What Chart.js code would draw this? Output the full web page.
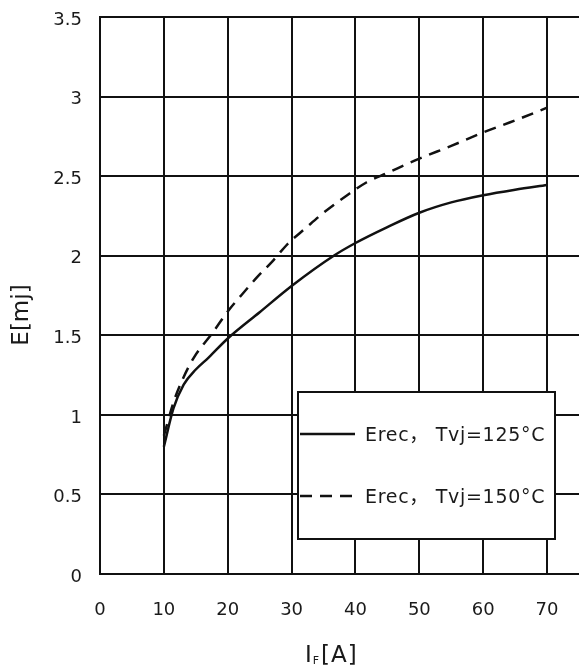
<!DOCTYPE html>
<html>
<head>
    <meta charset="utf-8">
    <script src="https://cdn.jsdelivr.net/npm/chart.js@4.4.1/dist/chart.umd.min.js"></script>
    <style>
        body { margin: 0; background: #fff; }
    </style>
</head>

<body>
    <canvas id="myChart" width="579" height="666"></canvas>

    <script>
        // I_F [A] vs E [mJ]
        const current125 = [10, 11.5, 13.1, 15, 17, 20, 25, 30, 36.6, 40, 45, 50, 55, 60, 65, 70];
        const erec125 = [0.80, 1.04, 1.19, 1.285, 1.36, 1.48, 1.645, 1.81, 2.00, 2.08, 2.18, 2.27, 2.335, 2.38, 2.415, 2.445];

        const current150 = [10, 11.6, 12.9, 14.7, 17.7, 20, 22.2, 24.6, 27, 29.4, 32.1, 35, 38.7, 41.7, 45, 50, 55, 60, 65, 70];
        const erec150 = [0.87, 1.09, 1.22, 1.36, 1.52, 1.65, 1.755, 1.865, 1.965, 2.075, 2.17, 2.27, 2.38, 2.46, 2.52, 2.61, 2.69, 2.775, 2.85, 2.93];

        const seriesLabels = ['Erec， Tvj=125°C', 'Erec， Tvj=150°C'];
        const xTicks = [0, 10, 20, 30, 40, 50, 60, 70];
        const yTicks = [0, 0.5, 1, 1.5, 2, 2.5, 3, 3.5];

        const tickFont = { family: 'DejaVu Sans', size: 18 };
        const ink = '#111';
        const textInk = '#1a1a1a';

        function toPoints(xs, ys) {
            return xs.map((x, i) => ({ x: x, y: ys[i] }));
        }

        // legend box + axis titles drawn by hand (legend sits inside the plot, x title has a subscript)
        const extras = {
            id: 'extras',
            afterDraw(chart) {
                const ctx = chart.ctx;
                const a = chart.chartArea;
                ctx.save();

                // legend
                const bx = a.left + 198, by = a.top + 375, bw = 257, bh = 147;
                ctx.fillStyle = '#fff';
                ctx.fillRect(bx, by, bw, bh);
                ctx.lineWidth = 2;
                ctx.strokeStyle = ink;
                ctx.strokeRect(bx, by, bw, bh);

                chart.data.datasets.forEach(function (ds, i) {
                    const y = by + 42 + i * 62;
                    ctx.beginPath();
                    ctx.setLineDash(ds.borderDash || []);
                    ctx.lineWidth = ds.borderWidth;
                    ctx.moveTo(bx + 2, y);
                    ctx.lineTo(bx + 57, y);
                    ctx.stroke();
                    ctx.setLineDash([]);
                    ctx.fillStyle = textInk;
                    ctx.font = '19px "DejaVu Sans", "Noto Sans CJK SC"';
                    ctx.letterSpacing = '0.7px';
                    ctx.textBaseline = 'middle';
                    ctx.textAlign = 'left';
                    ctx.fillText(ds.label, bx + 67, y + 2);
                });
                ctx.letterSpacing = '0px';

                // y title
                ctx.fillStyle = textInk;
                ctx.font = '23px "DejaVu Sans"';
                ctx.translate(22, 315);
                ctx.rotate(-Math.PI / 2);
                ctx.textAlign = 'center';
                ctx.textBaseline = 'middle';
                ctx.fillText('E[mj]', 0, 0);
                ctx.setTransform(1, 0, 0, 1, 0, 0);

                // x title: I_F[A]
                const tx = 305, ty = 662;
                ctx.textAlign = 'left';
                ctx.textBaseline = 'alphabetic';
                ctx.letterSpacing = '1px';
                ctx.font = '23px "DejaVu Sans"';
                ctx.fillText('I', tx, ty);
                let w = ctx.measureText('I').width;
                ctx.font = '11px "DejaVu Sans"';
                ctx.fillText('F', tx + w, ty + 2);
                w += ctx.measureText('F').width + 1;
                ctx.font = '23px "DejaVu Sans"';
                ctx.fillText('[A]', tx + w, ty);

                ctx.restore();
            }
        };

        const data = {
            datasets: [{
                label: seriesLabels[0],
                data: toPoints(current125, erec125),
                borderColor: ink,
                borderWidth: 2.5,
                pointRadius: 0,
                cubicInterpolationMode: 'monotone',
                fill: false
            },
            {
                label: seriesLabels[1],
                data: toPoints(current150, erec150),
                borderColor: ink,
                borderWidth: 2.5,
                borderDash: [12, 8],
                pointRadius: 0,
                cubicInterpolationMode: 'monotone',
                fill: false
            }]
        };

        const config = {
            type: 'line',
            data: data,
            options: {
                responsive: false,
                animation: false,
                layout: { padding: { top: 17, right: 0, bottom: 0, left: 0 } },
                plugins: {
                    legend: { display: false },
                    tooltip: { enabled: false }
                },
                scales: {
                    x: {
                        type: 'linear',
                        min: 0,
                        max: 75,
                        afterBuildTicks: function (scale) {
                            scale.ticks = xTicks.map(v => ({ value: v }));
                        },
                        afterFit: function (scale) {
                            scale.height = 92;
                            scale.paddingLeft = 0;
                            scale.paddingRight = 0;
                        },
                        ticks: { font: tickFont, color: textInk, padding: 26, maxRotation: 0, callback: v => String(v) },
                        grid: { color: ink, lineWidth: 2, drawTicks: false },
                        border: { color: ink, width: 2 }
                    },
                    y: {
                        type: 'linear',
                        min: 0,
                        max: 3.5,
                        afterBuildTicks: function (scale) {
                            scale.ticks = yTicks.map(v => ({ value: v }));
                        },
                        afterFit: function (scale) {
                            scale.width = 100;
                            scale.paddingTop = 0;
                            scale.paddingBottom = 0;
                        },
                        ticks: { font: tickFont, color: textInk, padding: 18, labelOffset: 3, callback: v => String(v) },
                        grid: { color: ink, lineWidth: 2, drawTicks: false },
                        border: { color: ink, width: 2 }
                    }
                }
            },
            plugins: [extras]
        };

        var chart = new Chart(document.getElementById('myChart'), config);
    </script>
</body>
</html>
